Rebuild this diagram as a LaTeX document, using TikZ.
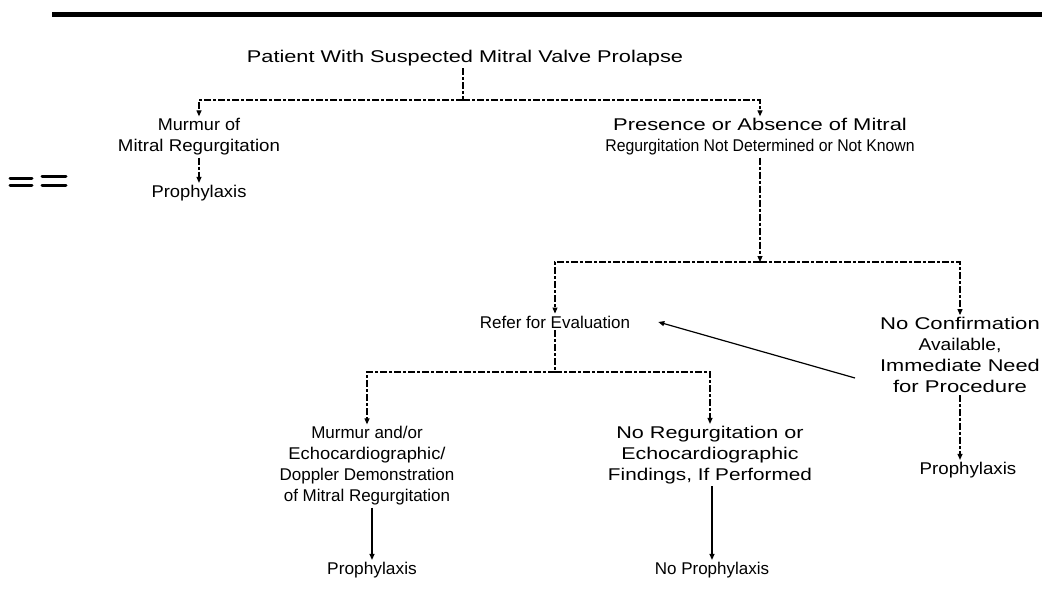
\documentclass[tikz,border=0pt]{standalone}
\usepackage{fontspec}
\usepackage{graphicx}
\setmainfont{Liberation Sans}
\usetikzlibrary{arrows.meta,calc}
\newcommand{\hs}[2]{\scalebox{#1}[1]{#2}}
\begin{document}
\begin{tikzpicture}[x=1pt,y=1pt,
  lbl/.style={font=\fontsize{17}{21}\selectfont, align=center, inner sep=2pt},
  conn/.style={line width=1.1pt, dash pattern=on 7pt off 2pt on 3pt off 2pt},
  solidconn/.style={line width=1.2pt},
  tip/.style={-{Triangle[length=6pt,width=5pt]}}
]
\useasboundingbox (0,0) rectangle (1042,-594);
% top bar and stray marks
\draw[line width=5pt] (52,-15) coordinate (bar1) -- (1042,-15) coordinate (bar2);
\draw[line width=3pt, line cap=round] (10,-178) coordinate (m1) -- (32,-178) coordinate (m2);
\draw[line width=3pt, line cap=round] (10,-185) coordinate (m3) -- (32,-185) coordinate (m4);
\draw[line width=3pt, line cap=round] (42,-176) coordinate (m5) -- (66,-176) coordinate (m6);
\draw[line width=3pt, line cap=round] (42,-185) coordinate (m7) -- (66,-185) coordinate (m8);

\node[lbl] (title) at (465,-58) {\hs{1.28}{Patient With Suspected Mitral Valve Prolapse}};
\node[lbl] (murmur) at (199,-137) {\hs{1.06}{Murmur of}\\\hs{1.1}{Mitral Regurgitation}};
\node[lbl] (proph1) at (199,-193) {\hs{1.08}{Prophylaxis}};
\node[lbl] (presence) at (760,-137) {\hs{1.29}{Presence or Absence of Mitral}\\\hs{0.93}{Regurgitation Not Determined or Not Known}};
\node[lbl] (refer) at (555,-322) {Refer for Evaluation};
\node[lbl] (noconf) at (960,-355) {\hs{1.3}{No Confirmation}\\\hs{1.13}{Available,}\\\hs{1.28}{Immediate Need}\\\hs{1.3}{for Procedure}};
\node[lbl] (proph3) at (968,-470) {\hs{1.1}{Prophylaxis}};
\node[lbl] (murmur2) at (367,-466) {Murmur and/or\\\hs{1.08}{Echocardiographic/}\\Doppler Demonstration\\of Mitral Regurgitation};
\node[lbl] (noregurg) at (710,-455) {\hs{1.27}{No Regurgitation or}\\\hs{1.26}{Echocardiographic}\\\hs{1.22}{Findings, If Performed}};
\node[lbl] (proph2) at (372,-570) {\hs{1.02}{Prophylaxis}};
\node[lbl] (noproph) at (712,-570) {No Prophylaxis};

\coordinate (s1) at (463,-100);
\coordinate (s2) at (760,-262);
\coordinate (s3) at (555,-372);
\coordinate (back) at (855,-378);

\draw[conn] (title.south -| s1) -- (s1);
\draw[conn,tip] (s1) -| (murmur.north);
\draw[conn,tip] (s1) -| (presence.north);
\draw[conn,tip] (murmur.south) -- (proph1.north);
\draw[conn,tip] (presence.south) -- (s2);
\draw[conn,tip] (s2) -| (refer.north);
\draw[conn,tip] (s2) -| (noconf.north);
\draw[conn] (refer.south) -- (s3);
\draw[conn,tip] (s3) -| (murmur2.north);
\draw[conn,tip] (s3) -| (noregurg.north);
\draw[solidconn,tip] (murmur2.south -| proph2) -- (proph2.north);
\draw[solidconn,tip] (noregurg.south -| noproph) -- (noproph.north);
\draw[conn,tip] (noconf.south) -- (proph3.north -| noconf);
\draw[solidconn,tip] (back) -- ([xshift=26pt]refer.east);
\end{tikzpicture}
\end{document}
